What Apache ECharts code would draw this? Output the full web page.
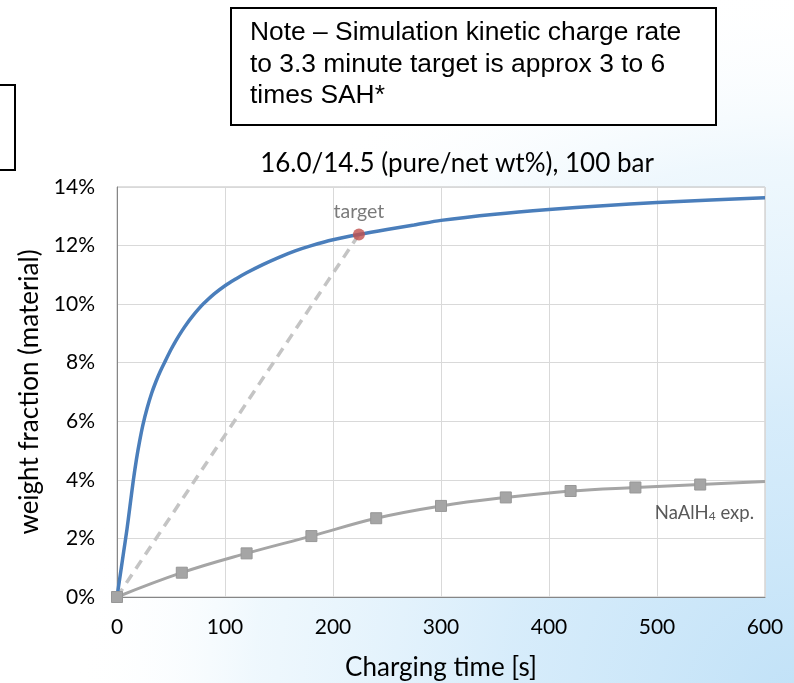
<!DOCTYPE html>
<html><head><meta charset="utf-8">
<script src="https://cdn.jsdelivr.net/npm/echarts/dist/echarts.min.js"></script>
<style>html,body{margin:0;padding:0;background:#fff}#c{width:794px;height:683px}</style>
</head><body><div id="c"></div>
<script>
// Simulation curve (charging time [s], weight fraction %)
const simTime = [0, 3, 6, 9, 12, 15, 18, 21, 24, 28, 32, 36, 40, 45, 50, 55, 60, 65, 70, 75, 80, 90, 100, 110, 120, 135, 150, 165, 180, 200, 224, 250, 275, 300, 350, 400, 450, 500, 550, 600];
const simWt   = [0, 0.75, 1.5, 2.25, 3.1, 3.95, 4.7, 5.33, 5.88, 6.46, 6.95, 7.35, 7.7, 8.08, 8.45, 8.78, 9.08, 9.35, 9.59, 9.81, 10.01, 10.35, 10.63, 10.86, 11.07, 11.35, 11.6, 11.82, 12.0, 12.2, 12.38, 12.55, 12.7, 12.86, 13.07, 13.23, 13.36, 13.47, 13.56, 13.63];
// NaAlH4 experiment
const expTime = [0, 60, 120, 180, 240, 300, 360, 420, 480, 540, 600];
const expWt   = [0, 0.83, 1.49, 2.08, 2.69, 3.11, 3.40, 3.62, 3.74, 3.84, 3.94];
// Target point
const targetTime = [224];
const targetWt = [12.38];
// Axes
const xTicks = [0, 100, 200, 300, 400, 500, 600];
const yTicks = [0, 2, 4, 6, 8, 10, 12, 14];

const titleText = '16.0/14.5 (pure/net wt%), 100 bar';
const noteText = 'Note \u2013 Simulation kinetic charge rate\nto 3.3 minute target is approx 3 to 6\ntimes SAH*';

const chart = echarts.init(document.getElementById('c'), null, {renderer: 'canvas'});
const lato = 'Lato, "Noto Sans", sans-serif';

const option = {
  backgroundColor: '#ffffff',
  animation: false,
  title: {
    text: titleText,
    left: 452, top: 146, textAlign: 'center',
    textStyle: {fontFamily: lato, fontSize: 26, fontWeight: 'normal', color: '#000'}
  },
  grid: {
    left: 117, right: 29, top: 187, bottom: 86,
    outerBoundsMode: 'none', containLabel: false,
    show: true, backgroundColor: '#ffffff', borderColor: '#bfbfbf', borderWidth: 1
  },
  xAxis: {
    type: 'value', min: xTicks[0], max: xTicks[xTicks.length - 1], interval: xTicks[1] - xTicks[0],
    name: 'Charging time [s]', nameLocation: 'middle', nameGap: 58,
    nameTextStyle: {fontFamily: lato, fontSize: 26, color: '#000'},
    axisLine: {show: true, lineStyle: {color: '#868686', width: 1}},
    axisTick: {show: false},
    axisLabel: {fontFamily: lato, fontSize: 21, color: '#000', margin: 20},
    splitLine: {show: true, lineStyle: {color: '#d9d9d9', width: 1}}
  },
  yAxis: {
    type: 'value', min: yTicks[0], max: yTicks[yTicks.length - 1], interval: yTicks[1] - yTicks[0],
    name: 'weight fraction (material)', nameLocation: 'middle', nameGap: 70,
    nameTextStyle: {fontFamily: lato, fontSize: 26, color: '#000'},
    axisLine: {show: true, lineStyle: {color: '#868686', width: 1}},
    axisTick: {show: false},
    axisLabel: {fontFamily: lato, fontSize: 21, color: '#000', margin: 22, formatter: '{value}%'},
    splitLine: {show: true, lineStyle: {color: '#d9d9d9', width: 1}}
  },
  graphic: [
    {
      type: 'circle', z: -100, silent: true,
      shape: {cx: 794, cy: 700, r: 720},
      style: {
        fill: {
          type: 'radial', x: 794, y: 700, r: 720, global: true,
          colorStops: [
            {offset: 0, color: 'rgba(190,224,247,0.95)'},
            {offset: 0.4, color: 'rgba(208,233,250,0.85)'},
            {offset: 0.75, color: 'rgba(228,243,252,0.6)'},
            {offset: 1, color: 'rgba(255,255,255,0)'}
          ]
        }
      }
    },
    {
      type: 'rect', z: 100, silent: true,
      shape: {x: 231, y: 8, width: 485, height: 117},
      style: {fill: '#ffffff', stroke: '#000', lineWidth: 2}
    },
    {
      type: 'text', z: 101, silent: true, left: 250, top: 17,
      style: {text: noteText, fontFamily: '"Liberation Sans", Arial, sans-serif', fontSize: 26.4, fill: '#000', lineHeight: 31.5}
    },
    {
      type: 'rect', z: 100, silent: true,
      shape: {x: -10, y: 85, width: 25, height: 85},
      style: {fill: '#ffffff', stroke: '#000', lineWidth: 2}
    }
  ],
  series: [
    {
      type: 'line', name: 'simulation',
      data: simTime.map((t, i) => [t, simWt[i]]),
      smooth: 0.3, showSymbol: false, symbol: 'none',
      lineStyle: {color: '#4a7ebb', width: 3.5}, z: 3
    },
    {
      type: 'line', name: 'target line',
      data: [[0, 0], [targetTime[0], targetWt[0]]],
      showSymbol: false, symbol: 'none',
      lineStyle: {color: '#c4c4c4', width: 3.5, type: [10, 7]}, z: 2
    },
    {
      type: 'line', name: 'NaAlH4 exp.',
      data: expTime.map((t, i) => (i === expTime.length - 1)
        ? {value: [t, expWt[i]], symbol: 'none'}
        : [t, expWt[i]]),
      smooth: 0.4,
      symbol: 'rect', symbolSize: 11, showSymbol: true,
      itemStyle: {color: '#a5a5a5', borderColor: '#979797', borderWidth: 1},
      lineStyle: {color: '#a5a5a5', width: 3}, z: 4,
      markPoint: {
        symbol: 'rect', symbolSize: 1, itemStyle: {color: 'rgba(0,0,0,0)'},
        data: [{
          coord: [expTime[expTime.length - 1], expWt[expWt.length - 1]],
          label: {
            show: true, position: 'inside', align: 'right', verticalAlign: 'middle', offset: [-11, 31],
            formatter: '{a|NaAlH}{s|4}{a| exp.}',
            rich: {
              a: {fontFamily: lato, fontSize: 18.5, color: '#595959'},
              s: {fontFamily: lato, fontSize: 12, color: '#595959', verticalAlign: 'bottom', padding: [7, 0, 0, 0]}
            }
          }
        }]
      }
    },
    {
      type: 'scatter', name: 'target',
      data: targetTime.map((t, i) => [t, targetWt[i]]),
      symbol: 'circle', symbolSize: 12,
      itemStyle: {color: '#c0504d'}, z: 5,
      label: {show: true, position: 'top', distance: 7, formatter: 'target',
        fontFamily: lato, fontSize: 19.5, color: '#595959'}
    }
  ]
};
chart.setOption(option);
</script>
</body></html>
